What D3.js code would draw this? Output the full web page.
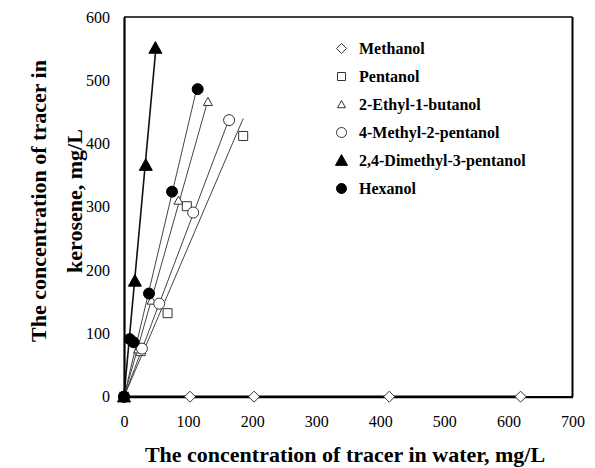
<!DOCTYPE html>
<html>
<head>
<meta charset="utf-8">
<script src="https://cdn.jsdelivr.net/npm/d3@7"></script>
<style>
  html, body { margin: 0; padding: 0; background: #fff; }
  svg { display: block; }
  text { font-family: "Liberation Serif", "Times New Roman", serif; fill: #000; }
</style>
</head>
<body>
<svg id="chart" width="595" height="468"></svg>
<script>
// ---- data ----
const xTicks = [0, 100, 200, 300, 400, 500, 600, 700];
const yTicks = [0, 100, 200, 300, 400, 500, 600];

const seriesNames = ["Methanol", "Pentanol", "2-Ethyl-1-butanol", "4-Methyl-2-pentanol", "2,4-Dimethyl-3-pentanol", "Hexanol"];
const seriesShapes = ["diamond", "square", "triangle", "circle", "triangle", "circle"];
const seriesFilled = [false, false, false, false, true, true];

const methanolX = [0, 103, 203, 414, 619];
const methanolY = [0, 0, 0, 0, 0];
const pentanolX = [0, 26, 68, 98, 186];
const pentanolY = [0, 72, 132, 301, 412];
const ethylButanolX = [0, 22, 43, 85, 131];
const ethylButanolY = [0, 75, 152, 310, 466];
const methylPentanolX = [0, 28, 55, 108, 164];
const methylPentanolY = [0, 76, 147, 291, 437];
const dimethylPentanolX = [0, 17, 34, 49];
const dimethylPentanolY = [0, 183, 366, 551];
const hexanolX = [0, 9, 15, 39, 75, 115];
const hexanolY = [0, 91, 86, 163, 324, 486];

const seriesX = [methanolX, pentanolX, ethylButanolX, methylPentanolX, dimethylPentanolX, hexanolX];
const seriesY = [methanolY, pentanolY, ethylButanolY, methylPentanolY, dimethylPentanolY, hexanolY];

// ---- layout ----
const svg = d3.select("#chart");
const pL = 124, pR = 572.5, pT = 17, pB = 396.7;
const x = d3.scaleLinear().domain([0, 700]).range([pL, pR]);
const y = d3.scaleLinear().domain([0, 600]).range([pB, pT]);

// marker path generator (centered at 0,0)
function markerPath(shape, s) {
  const h = s / 2;
  if (shape === "diamond") return `M0,${-h}L${h},0L0,${h}L${-h},0Z`;
  if (shape === "square") return `M${-h},${-h}H${h}V${h}H${-h}Z`;
  if (shape === "triangle") {
    const ht = s * 0.9;
    return `M0,${-ht * 0.55}L${h},${ht * 0.45}L${-h},${ht * 0.45}Z`;
  }
  return `M${h},0A${h},${h} 0 1,1 ${-h},0A${h},${h} 0 1,1 ${h},0Z`;
}
const markerSize = [11, 9, 9, 11, 13, 11];

// ---- frame ----
const g = svg.append("g");
g.append("line").attr("x1", pL).attr("x2", pR).attr("y1", pT).attr("y2", pT)
  .attr("stroke", "#000").attr("stroke-width", 1.5);
g.append("line").attr("x1", pR).attr("x2", pR).attr("y1", pT).attr("y2", pB)
  .attr("stroke", "#000").attr("stroke-width", 2);

// ---- trendlines (least squares through the origin) ----
seriesX.forEach((xs, i) => {
  const ys = seriesY[i];
  let sxy = 0, sxx = 0;
  xs.forEach((v, k) => { sxy += v * ys[k]; sxx += v * v; });
  const slope = sxy / sxx;
  const xmax = d3.max(xs);
  g.append("line")
    .attr("x1", x(0)).attr("y1", y(0))
    .attr("x2", x(xmax)).attr("y2", y(slope * xmax))
    .attr("stroke", i === 0 ? "#000" : (i === 4 ? "#111" : "#444"))
    .attr("stroke-width", i === 0 ? 2.5 : (i === 4 ? 1.6 : 1));
});

// ---- axes ----
const xAxis = d3.axisBottom(x).tickValues(xTicks).tickSize(0).tickPadding(19);
const yAxis = d3.axisLeft(y).tickValues(yTicks).tickSize(0).tickPadding(14);
const xg = svg.append("g").attr("transform", `translate(0,${pB})`).call(xAxis);
const yg = svg.append("g").attr("transform", `translate(${pL},0)`).call(yAxis);
[xg, yg].forEach(a => {
  a.select(".domain").attr("stroke", "#000").attr("stroke-width", 2.2);
  a.selectAll("text").style("font-family", '"Liberation Serif", "Times New Roman", serif')
    .style("font-size", "16px").attr("fill", "#000");
});

// ---- markers ----
seriesX.forEach((xs, i) => {
  const ys = seriesY[i];
  svg.append("g").selectAll("path").data(xs.map((v, k) => [v, ys[k]])).join("path")
    .attr("transform", d => `translate(${x(d[0])},${y(d[1])})`)
    .attr("d", markerPath(seriesShapes[i], markerSize[i]))
    .attr("fill", seriesFilled[i] ? "#000" : "#fff")
    .attr("stroke", seriesFilled[i] ? "#000" : "#333")
    .attr("stroke-width", 1);
});

// ---- legend ----
const lg = svg.append("g");
seriesNames.forEach((name, i) => {
  const cy = 48.5 + i * 28;
  lg.append("path")
    .attr("transform", `translate(341.5,${cy})`)
    .attr("d", markerPath(seriesShapes[i], i === 4 ? 12 : (i === 1 || i === 2 ? 8 : 10)))
    .attr("fill", seriesFilled[i] ? "#000" : "#fff")
    .attr("stroke", seriesFilled[i] ? "#000" : "#333")
    .attr("stroke-width", 1);
  lg.append("text").attr("x", 359).attr("y", cy + 5.5)
    .style("font-size", "16px").style("font-weight", "bold").text(name);
});

// ---- axis titles ----
svg.append("text").attr("x", 345).attr("y", 462).attr("text-anchor", "middle")
  .style("font-size", "22px").style("font-weight", "bold")
  .text("The concentration of tracer in water, mg/L");
const yt = svg.append("text").attr("transform", "translate(0,201) rotate(-90)")
  .attr("text-anchor", "middle").style("font-size", "22px").style("font-weight", "bold");
yt.append("tspan").attr("x", 0).attr("y", 46).text("The concentration of tracer in");
yt.append("tspan").attr("x", 0).attr("y", 82).text("kerosene, mg/L");
</script>
</body>
</html>
